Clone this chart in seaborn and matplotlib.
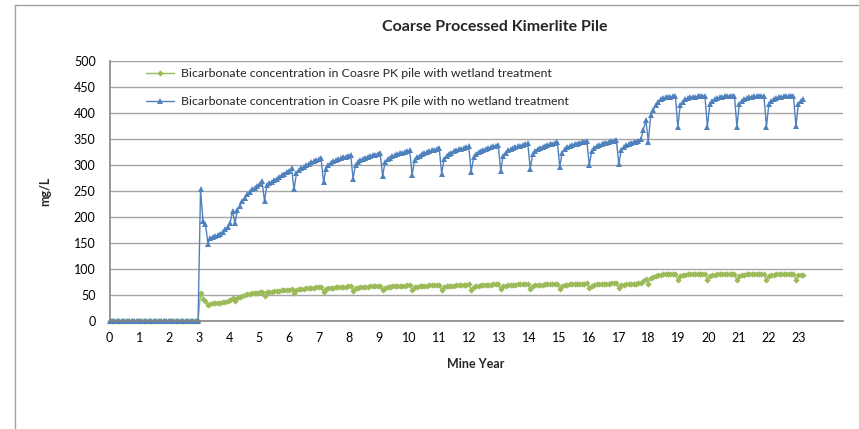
import numpy as np
import pandas as pd
import seaborn as sns
import matplotlib.pyplot as plt
from matplotlib.lines import Line2D

# time step of the model output (30 days), in years
STEP_YEARS = 30 / 365.25

# Bicarbonate (mg/L), no wetland treatment - one row per yearly cycle
blue_pre = [0, 0, 0, 0, 0, 0, 0, 0, 0, 0, 0, 0, 0, 0, 0, 0, 0, 0, 0, 0, 0, 0, 0, 0, 0, 0, 0, 0, 0, 0, 0, 0, 0, 0, 0, 0, 0]
blue_y03 = [253, 192, 187, 149, 160, 162, 163, 165, 168, 172, 176, 180, 188, 212]
blue_y04 = [188, 214, 222, 230, 237, 244, 249, 253, 256, 259, 264, 269]
blue_y05 = [231, 262, 266, 268, 271, 274, 277, 280, 283, 286, 288, 294]
blue_y06 = [253, 284, 290, 294, 297, 300, 302, 305, 307, 309, 311, 313]
blue_y07 = [267, 293, 300, 304, 307, 309, 311, 313, 315, 316, 318, 320]
blue_y08 = [274, 300, 306, 309, 312, 314, 316, 318, 319, 320, 321, 323]
blue_y09 = [279, 305, 311, 314, 317, 319, 321, 323, 324, 325, 327, 328]
blue_y10 = [281, 309, 315, 318, 321, 323, 325, 327, 328, 329, 331, 333]
blue_y11 = [283, 312, 318, 322, 324, 326, 328, 330, 331, 333, 334, 336]
blue_y12 = [287, 315, 321, 325, 327, 329, 331, 333, 334, 336, 337, 339]
blue_y13 = [289, 318, 324, 328, 330, 332, 334, 336, 337, 339, 340, 342]
blue_y14 = [293, 321, 327, 331, 333, 335, 337, 339, 340, 341, 343, 345]
blue_y15 = [297, 324, 330, 334, 336, 338, 340, 341, 343, 344, 345, 347]
blue_y16 = [300, 326, 332, 336, 338, 340, 342, 343, 345, 346, 347, 349]
blue_y17 = [302, 329, 335, 338, 340, 342, 344, 345, 347, 350, 368, 386]
blue_y18 = [345, 396, 406, 416, 422, 426, 428, 430, 431, 431, 432, 432]
blue_y19 = [373, 416, 422, 426, 428, 430, 431, 431, 432, 432, 433, 433]
blue_y20 = [374, 417, 423, 427, 429, 430, 431, 432, 432, 433, 433, 433]
blue_y21 = [374, 417, 423, 427, 429, 430, 431, 432, 432, 433, 433, 433]
blue_y22 = [374, 417, 423, 427, 429, 430, 431, 432, 432, 433, 433, 433]
blue_y23 = [375, 418, 424, 426]

# Bicarbonate (mg/L), with wetland treatment
green_pre = [0, 0, 0, 0, 0, 0, 0, 0, 0, 0, 0, 0, 0, 0, 0, 0, 0, 0, 0, 0, 0, 0, 0, 0, 0, 0, 0, 0, 0, 0, 0, 0, 0, 0, 0, 0, 0]
green_y03 = [54, 42, 38, 31, 33, 34, 34, 35, 35, 36, 37, 38, 40, 44]
green_y04 = [39, 45, 47, 48, 50, 51, 52, 53, 54, 54, 55, 56]
green_y05 = [48, 55, 56, 56, 57, 58, 58, 59, 59, 60, 60, 62]
green_y06 = [53, 60, 61, 62, 62, 63, 63, 64, 64, 65, 65, 66]
green_y07 = [56, 62, 63, 64, 64, 65, 65, 66, 66, 66, 67, 67]
green_y08 = [58, 63, 64, 65, 66, 66, 66, 67, 67, 67, 67, 68]
green_y09 = [59, 64, 65, 66, 67, 67, 67, 68, 68, 68, 69, 69]
green_y10 = [59, 65, 66, 67, 67, 68, 68, 69, 69, 69, 70, 70]
green_y11 = [59, 66, 67, 68, 68, 68, 69, 69, 70, 70, 70, 71]
green_y12 = [60, 66, 67, 68, 69, 69, 70, 70, 70, 71, 71, 71]
green_y13 = [61, 67, 68, 69, 69, 70, 70, 71, 71, 71, 71, 72]
green_y14 = [62, 67, 69, 70, 70, 70, 71, 71, 71, 72, 72, 72]
green_y15 = [62, 68, 69, 70, 71, 71, 71, 72, 72, 72, 72, 73]
green_y16 = [63, 68, 70, 71, 71, 71, 72, 72, 72, 73, 73, 73]
green_y17 = [63, 69, 70, 71, 71, 72, 72, 72, 73, 73, 77, 81]
green_y18 = [72, 83, 85, 87, 88, 89, 90, 90, 90, 90, 91, 91]
green_y19 = [78, 87, 89, 89, 90, 90, 90, 91, 91, 91, 91, 91]
green_y20 = [78, 87, 89, 89, 90, 90, 90, 91, 91, 91, 91, 91]
green_y21 = [78, 87, 89, 89, 90, 90, 90, 91, 91, 91, 91, 91]
green_y22 = [78, 87, 89, 89, 90, 90, 90, 91, 91, 91, 91, 91]
green_y23 = [79, 88, 89, 89]

LABEL_WET = "Bicarbonate concentration in Coasre PK pile with wetland treatment"
LABEL_NOWET = "Bicarbonate concentration in Coasre PK pile with no wetland treatment"

Y_TICKS = [0, 50, 100, 150, 200, 250, 300, 350, 400, 450, 500]
X_TICKS = list(range(0, 24))


def main():
    blue = (blue_pre + blue_y03 + blue_y04 + blue_y05 + blue_y06 + blue_y07 + blue_y08
            + blue_y09 + blue_y10 + blue_y11 + blue_y12 + blue_y13 + blue_y14 + blue_y15
            + blue_y16 + blue_y17 + blue_y18 + blue_y19 + blue_y20 + blue_y21 + blue_y22
            + blue_y23)
    green = (green_pre + green_y03 + green_y04 + green_y05 + green_y06 + green_y07 + green_y08
             + green_y09 + green_y10 + green_y11 + green_y12 + green_y13 + green_y14 + green_y15
             + green_y16 + green_y17 + green_y18 + green_y19 + green_y20 + green_y21 + green_y22
             + green_y23)

    years = np.arange(len(blue)) * STEP_YEARS
    df_wet = pd.DataFrame({"year": years, "conc": green})
    df_nowet = pd.DataFrame({"year": years, "conc": blue})

    sns.set_style("white")
    plt.rcParams['font.family'] = ['Lato', 'DejaVu Sans']

    fig = plt.figure(figsize=(8.59, 4.29), dpi=100)
    ax = fig.add_axes([109.5 / 859, 108 / 429, 733 / 859, 260 / 429])

    sns.lineplot(data=df_wet, x="year", y="conc", ax=ax, color="#9BBB59",
                 marker="D", markersize=3.2, markeredgewidth=0, linewidth=1,
                 estimator=None, sort=False, label=LABEL_WET, clip_on=False)
    sns.lineplot(data=df_nowet, x="year", y="conc", ax=ax, color="#4F81BD",
                 marker="^", markersize=5, markeredgewidth=0, linewidth=1,
                 estimator=None, sort=False, label=LABEL_NOWET, clip_on=False)

    ax.set_xlim(0, 24.47)
    ax.set_ylim(0, 500)
    ax.set_xticks(X_TICKS)
    ax.set_yticks(Y_TICKS)
    ax.tick_params(axis="both", length=0, labelsize=9, colors="black")
    ax.tick_params(axis="x", pad=8)
    ax.tick_params(axis="y", pad=10)
    ax.yaxis.grid(True, color="#A6A6A6", linewidth=1)
    ax.xaxis.grid(False)
    for side in ["top", "right"]:
        ax.spines[side].set_visible(False)
    for side in ["left", "bottom"]:
        ax.spines[side].set_color("#868686")
        ax.spines[side].set_linewidth(1.2)
    ax.set_axisbelow(True)

    ax.set_xlabel("Mine Year", fontsize=9, fontweight="bold", labelpad=10)
    ax.set_ylabel("mg/L", fontsize=9, fontweight="bold", labelpad=16)
    fig.text(495 / 859, 1 - 27 / 429, "Coarse Processed Kimerlite Pile",
             ha="center", va="center", fontsize=11.5, fontweight="bold")

    ax.legend(loc="upper left", bbox_to_anchor=(0.042, 0.995), frameon=False,
              fontsize=8.9, borderpad=0, labelspacing=1.35, handlelength=2.2,
              handletextpad=0.6)

    # outer chart frame (only the top and left edges are inside the picture)
    fig.add_artist(Line2D([15 / 859, 1], [1 - 5 / 429, 1 - 5 / 429], color="#A0A0A0", linewidth=1))
    fig.add_artist(Line2D([15 / 859, 15 / 859], [0, 1 - 5 / 429], color="#A0A0A0", linewidth=1))

    fig.savefig("out.png", dpi=100)


if __name__ == "__main__":
    main()
